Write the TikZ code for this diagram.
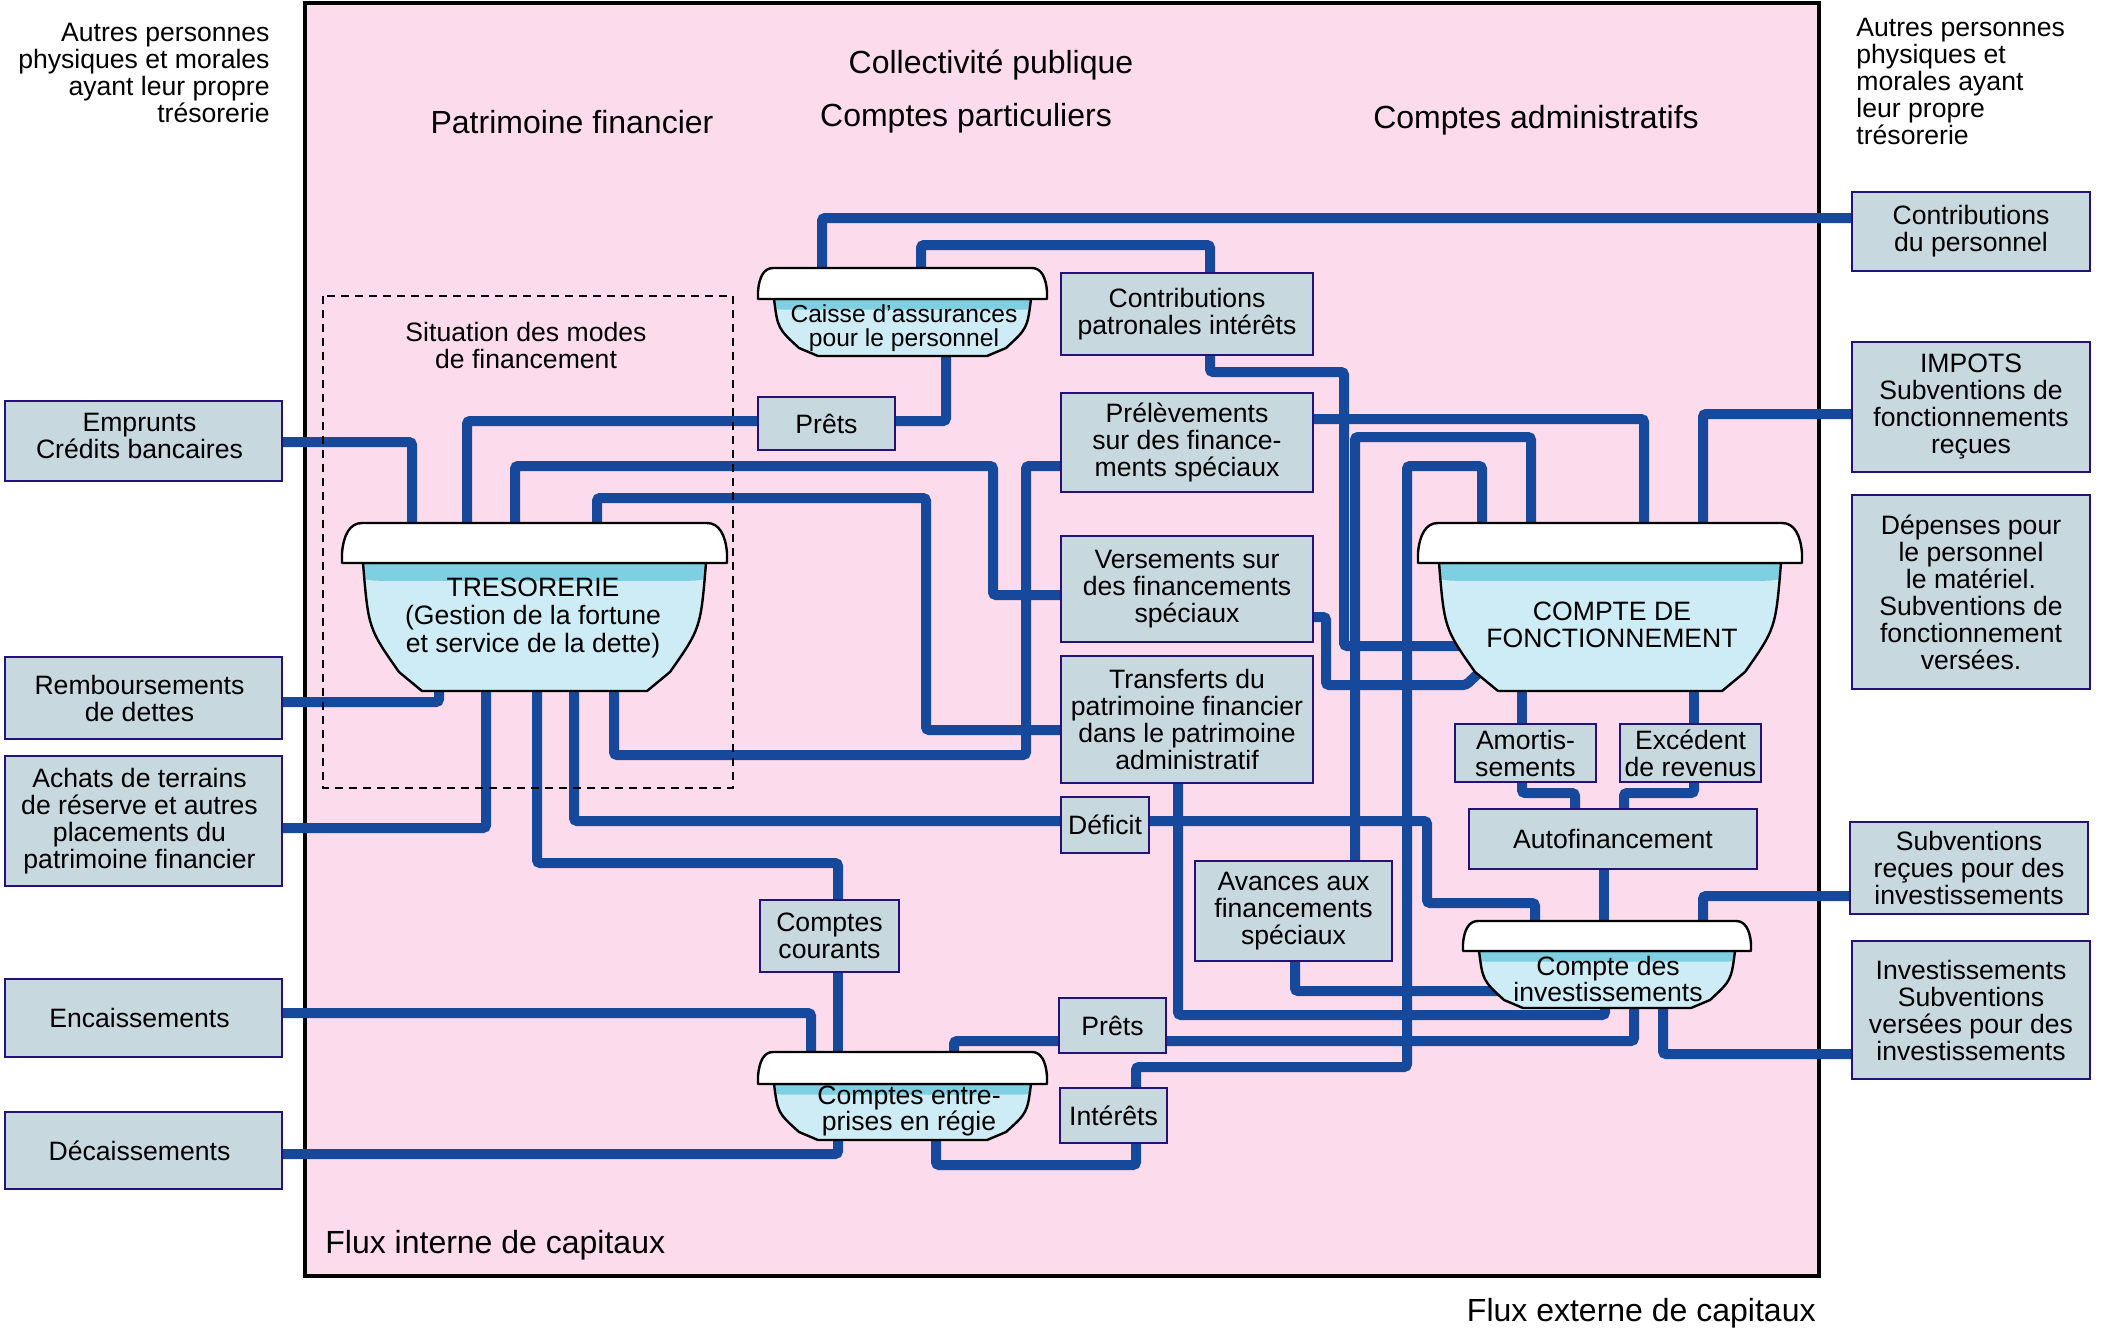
\documentclass[tikz,border=0pt]{standalone}
\usepackage{fontspec}
\setmainfont{Liberation Sans}
\definecolor{pinkbg}{RGB}{252,220,236}
\definecolor{flowblue}{RGB}{22,72,156}
\definecolor{boxfill}{RGB}{199,216,223}
\definecolor{boxborder}{RGB}{36,18,122}
\definecolor{bowlfill}{RGB}{206,236,245}
\definecolor{bandcol}{RGB}{126,207,225}
\pgfdeclarelayer{back}
\pgfdeclarelayer{flows}
\pgfsetlayers{back,flows,main}
% #1 x1 lid, #2 x2 lid, #3 y lid top, #4 y lid bottom, #5 y bowl bottom,
% #6 top inset, #7 chamfer inset, #8 bottom inset, #9 chamfer height
\newcommand\tub[9]{%
 \pgfmathsetmacro\tA{#1+#6}%
 \pgfmathsetmacro\tB{#2-#6}%
 \pgfmathsetmacro\cA{#1+#7}%
 \pgfmathsetmacro\cB{#2-#7}%
 \pgfmathsetmacro\bA{#1+#8}%
 \pgfmathsetmacro\bB{#2-#8}%
 \pgfmathsetmacro\cY{#5-#9}%
 \pgfmathsetmacro\qA{\tA+0.15*(\cA-\tA)}%
 \pgfmathsetmacro\qB{\tB-0.15*(\tB-\cB)}%
 \pgfmathsetmacro\qY{#4+0.6*(\cY-#4)}%
 \pgfmathsetmacro\bh{0.1*(#5-#4)+5}%
 \pgfmathsetmacro\bandY{#4+\bh}%
 \pgfmathsetmacro\bandU{\bandY-0.8*\bh}%
 \pgfmathsetmacro\rA{\tA+1.5*\bh}%
 \pgfmathsetmacro\rB{\tB-1.5*\bh}%
 \pgfmathsetmacro\sA{\tA-10}%
 \pgfmathsetmacro\sB{\tB+10}%
 \pgfmathsetmacro\sY{#4-5}%
 \pgfmathsetmacro\lw{#2-#1}%
 \pgfmathsetmacro\lh{#4-#3}%
 \pgfmathsetmacro\lA{#1+0.052*\lw}%
 \pgfmathsetmacro\lB{#2-0.052*\lw}%
 \pgfmathsetmacro\lY{#4-0.25*\lh}%
 \pgfmathsetmacro\kA{#1+0.004*\lw}%
 \pgfmathsetmacro\kB{#2-0.004*\lw}%
 \pgfmathsetmacro\kY{#3+0.3*\lh}%
 \pgfmathsetmacro\mA{#1+0.02*\lw}%
 \pgfmathsetmacro\mB{#2-0.02*\lw}%
 \begin{scope}
  \clip (\tA,#4) .. controls (\qA,\qY) .. (\cA,\cY) -- (\bA,#5) -- (\bB,#5) -- (\cB,\cY) .. controls (\qB,\qY) .. (\tB,#4) -- cycle;
  \fill[bowlfill] (#1,#3) rectangle (#2,#5);
  \fill[bandcol] (\sA,\sY) -- (\sA,\bandU) .. controls (\tA,\bandY) .. (\rA,\bandY) -- (\rB,\bandY) .. controls (\tB,\bandY) .. (\sB,\bandU) -- (\sB,\sY) -- cycle;
 \end{scope}
 \draw[tubline] (\tA,#4) .. controls (\qA,\qY) .. (\cA,\cY) -- (\bA,#5) -- (\bB,#5) -- (\cB,\cY) .. controls (\qB,\qY) .. (\tB,#4) -- cycle;
 \draw[tubline, fill=white] (#1,#4) -- (#1,\lY) .. controls (\kA,\kY) and (\mA,#3) .. (\lA,#3) -- (\lB,#3) .. controls (\mB,#3) and (\kB,\kY) .. (#2,\lY) -- (#2,#4) -- cycle;
}
\begin{document}
\begin{tikzpicture}[x=0.5pt,y=-0.5pt,
  box/.style={draw=boxborder, fill=boxfill, line width=1.4pt, inner sep=0pt, outer sep=0pt, align=center, font=\fontsize{13.3}{13.5}\selectfont},
  lbox/.style={box, text depth=0pt, execute at begin node={\hspace*{-4pt}}},
  flow/.style={draw=flowblue, line width=5pt, rounded corners=1.5pt},
  hdr/.style={font=\fontsize{16}{18}\selectfont, inner sep=0pt},
  txt/.style={font=\fontsize{13.3}{13.5}\selectfont, inner sep=0pt},
  tubtxt/.style={font=\fontsize{13.3}{13.5}\selectfont, inner sep=0pt, align=center},
  tubnode/.style={inner sep=0pt, outer sep=0pt},
  tubline/.style={draw=black, line width=1.2pt, line join=round},
  dashbox/.style={draw=black, line width=0.9pt, dash pattern=on 4pt off 3pt}]
\useasboundingbox (0,0) rectangle (2101,1334);
\begin{pgfonlayer}{back}
\draw[fill=pinkbg, line width=2.3pt] (305,3) rectangle (1819,1276);
\end{pgfonlayer}

% free texts
\node[txt, align=right, anchor=east] (tl) at (270,73) {Autres personnes\\physiques et morales\\ayant leur propre\\trésorerie};
\node[txt, align=left, anchor=west] (tr) at (1856,81) {Autres personnes\\physiques et\\morales ayant\\leur propre\\trésorerie};
\node[hdr, anchor=base] (coll) at (991,73) {Collectivité publique};
\node[hdr, anchor=base] (cpart) at (966,126) {Comptes particuliers};
\node[hdr, anchor=base] (patr) at (572,133) {Patrimoine financier};
\node[hdr, anchor=base] (cadm) at (1536,128) {Comptes administratifs};
\node[hdr, anchor=base west] (fint) at (325,1253) {Flux interne de capitaux};
\node[hdr, anchor=base east] (fext) at (1816,1321) {Flux externe de capitaux};
\node[txt, align=center] (situ) at (526,345) {Situation des modes\\de financement};

% left boxes
\node[box, minimum width=138.5pt, minimum height=40pt] (emprunts) at (143.5,441) {};
\node[txt, align=center] (empruntsT) at (139.5,436) {Emprunts\\Crédits bancaires};
\node[box, minimum width=138.5pt, minimum height=41pt] (rembours) at (143.5,698) {};
\node[txt, align=center] (remboursT) at (139.5,698) {Remboursements\\de dettes};
\node[box, minimum width=138.5pt, minimum height=65pt] (achats) at (143.5,821) {};
\node[txt, align=center] (achatsT) at (139.5,821) {Achats de terrains\\de réserve et autres\\placements du\\patrimoine financier};
\node[box, minimum width=138.5pt, minimum height=39pt] (encaiss) at (143.5,1018) {};
\node[txt, align=center] (encaissT) at (139.5,1018) {Encaissements};
\node[box, minimum width=138.5pt, minimum height=38.5pt] (decaiss) at (143.5,1150.5) {};
\node[txt, align=center] (decaissT) at (139.5,1150.5) {Décaissements};
% right boxes
\node[box, minimum width=119pt, minimum height=39.5pt] (contribPers) at (1971,231.5) {Contributions\\du personnel};
\node[box, minimum width=119pt, minimum height=65pt] (impots) at (1971,407) {IMPOTS\\Subventions de\\fonctionnements\\reçues};
\node[box, minimum width=119pt, minimum height=97pt] (depenses) at (1971,592) {Dépenses pour\\le personnel\\le matériel.\\Subventions de\\fonctionnement\\versées.};
\node[box, minimum width=119pt, minimum height=46pt] (subvRecues) at (1969,868) {Subventions\\reçues pour des\\investissements};
\node[box, minimum width=119pt, minimum height=69pt] (investVers) at (1971,1010) {Investissements\\Subventions\\versées pour des\\investissements};
% middle boxes
\node[box, minimum width=126pt, minimum height=41pt] (contribPatr) at (1187,314) {Contributions\\patronales intérêts};
\node[box, minimum width=126pt, minimum height=49.5pt] (prelev) at (1187,442.5) {Prélèvements\\sur des finance-\\ments spéciaux};
\node[box, minimum width=126pt, minimum height=53pt] (versem) at (1187,589) {Versements sur\\des financements\\spéciaux};
\node[box, minimum width=126pt, minimum height=63.5pt] (transf) at (1187,719.5) {Transferts du\\patrimoine financier\\dans le patrimoine\\administratif};
\node[box, minimum width=44pt, minimum height=28pt] (deficit) at (1105,825) {Déficit};
\node[box, minimum width=70.5pt, minimum height=29pt] (amort) at (1525.5,753) {Amortis-\\sements};
\node[box, minimum width=70.5pt, minimum height=29pt] (excedent) at (1690.5,753) {Excédent\\de revenus};
\node[box, minimum width=144pt, minimum height=30pt] (autofin) at (1613,839) {Autofinancement};
\node[box, minimum width=98.5pt, minimum height=50pt] (avances) at (1293.5,911) {Avances aux\\financements\\spéciaux};
\node[box, minimum width=53.5pt, minimum height=27.5pt] (pretsB) at (1112.5,1025.5) {Prêts};
\node[box, minimum width=53.5pt, minimum height=27.5pt] (interets) at (1113.5,1115.5) {Intérêts};
\node[box, minimum width=68.5pt, minimum height=26.5pt] (pretsA) at (826.5,423.5) {Prêts};
\node[box, minimum width=69.5pt, minimum height=36pt] (courants) at (829.5,936) {Comptes\\courants};

% tubs
\tub{342}{727}{523}{563}{691}{21}{57}{80}{19}
\tub{1418}{1802}{523}{563}{691}{21}{57}{80}{19}
\tub{758}{1047}{268}{299}{356}{16}{41}{60}{8}
\tub{758}{1047}{1052}{1084}{1140}{16}{41}{60}{8}
\tub{1463}{1751}{921}{951}{1008}{16}{41}{60}{8}
\node[tubnode, minimum width=192.5pt, minimum height=84pt] (tres) at (534.5,607) {};
\node[tubnode, minimum width=192pt, minimum height=84pt] (fonc) at (1610,607) {};
\node[tubnode, minimum width=144.5pt, minimum height=44pt] (caisse) at (902.5,312) {};
\node[tubnode, minimum width=144.5pt, minimum height=44pt] (regie) at (902.5,1096) {};
\node[tubnode, minimum width=144pt, minimum height=43.5pt] (invest) at (1607,964.5) {};
\node[tubtxt, font=\fontsize{13.3}{14.2}\selectfont] (tresT) at (533,618) {TRESORERIE\\(Gestion de la fortune\\et service de la dette)};
\node[tubtxt] (foncT) at (1612,625) {COMPTE DE\\FONCTIONNEMENT};
\node[tubtxt, font=\fontsize{12.3}{12.3}\selectfont] (caisseT) at (904,328) {Caisse d'assurances\\pour le personnel};
\node[tubtxt, font=\fontsize{13.3}{12.8}\selectfont] (investT) at (1608,979) {Compte des\\investissements};
\node[tubtxt, font=\fontsize{13.3}{12.8}\selectfont] (regieT) at (909,1111) {Comptes entre-\\prises en régie};
\coordinate (foncL) at (1471,646);
\coordinate (foncV) at (1484,668);
\coordinate (investL) at (1505,991);

\draw[dashbox] (323,296) rectangle (733,788);

\begin{pgfonlayer}{flows}
\draw[flow] (contribPers.west |- 0,218) -| (caisse.north -| 822,0);
\draw[flow] (caisse.north -| 921,0) |- (1210,245) -- (contribPatr.north -| 1210,0);
\draw[flow] (caisse.south -| 946,0) |- (pretsA.east |- 0,421);
\draw[flow] (pretsA.west |- 0,421) -| (tres.north -| 467,0);
\draw[flow] (emprunts.east |- 0,442) -| (tres.north -| 412,0);
\draw[flow] (tres.north -| 515,0) |- (993,466) |- (versem.west |- 0,595);
\draw[flow] (prelev.west |- 0,466) -| (1026,755) -| (tres.south -| 614,0);
\draw[flow] (tres.north -| 597,0) |- (926,498) |- (transf.west |- 0,730);
\draw[flow] (rembours.east |- 0,702) -| (tres.south -| 439,0);
\draw[flow] (achats.east |- 0,828) -| (tres.south -| 486,0);
\draw[flow] (tres.south -| 537,0) |- (838,863) -- (courants.north -| 838,0);
\draw[flow] (tres.south -| 574,0) |- (deficit.west |- 0,821);
\draw[flow] (deficit.east |- 0,821) -| (1427,903) -| (invest.north -| 1535,0);
\draw[flow] (contribPatr.south -| 1210,0) |- (1344,372) |- (foncL);
\draw[flow] (fonc.north -| 1531,0) |- (1355,437) -- (avances.north -| 1355,0);
\draw[flow] (fonc.north -| 1482,0) |- (1407,466) |- (1136,1067) -- (interets.north -| 1136,0);
\draw[flow] (prelev.east |- 0,419) -| (fonc.north -| 1644,0);
\draw[flow] (impots.west |- 0,414) -| (fonc.north -| 1703,0);
\draw[flow] (versem.east |- 0,617) -| (1326,685) -- (1466,685) -- (foncV);
\draw[flow] (fonc.south -| 1522,0) -- (amort.north -| 1522,0);
\draw[flow] (fonc.south -| 1694,0) -- (excedent.north -| 1694,0);
\draw[flow] (amort.south -| 1522,0) |- (1575,793) -- (autofin.north -| 1575,0);
\draw[flow] (excedent.south -| 1694,0) |- (1624,793) -- (autofin.north -| 1624,0);
\draw[flow] (autofin.south -| 1604,0) -- (invest.north -| 1604,0);
\draw[flow] (subvRecues.west |- 0,896) -| (invest.north -| 1703,0);
\draw[flow] (invest.south -| 1663,0) |- (investVers.west |- 0,1054);
\draw[flow] (invest.south -| 1634,0) |- (pretsB.east |- 0,1041);
\draw[flow] (pretsB.west |- 0,1041) -| (regie.north -| 954,0);
\draw[flow] (invest.south -| 1605,0) |- (1178,1015) -- (transf.south -| 1178,0);
\draw[flow] (avances.south -| 1295,0) |- (investL);
\draw[flow] (courants.south -| 838,0) -- (regie.north -| 838,0);
\draw[flow] (encaiss.east |- 0,1013) -| (regie.north -| 811,0);
\draw[flow] (decaiss.east |- 0,1154) -| (regie.south -| 838,0);
\draw[flow] (regie.south -| 936,0) |- (1136,1165) -- (interets.south -| 1136,0);
\end{pgfonlayer}
\end{tikzpicture}
\end{document}
